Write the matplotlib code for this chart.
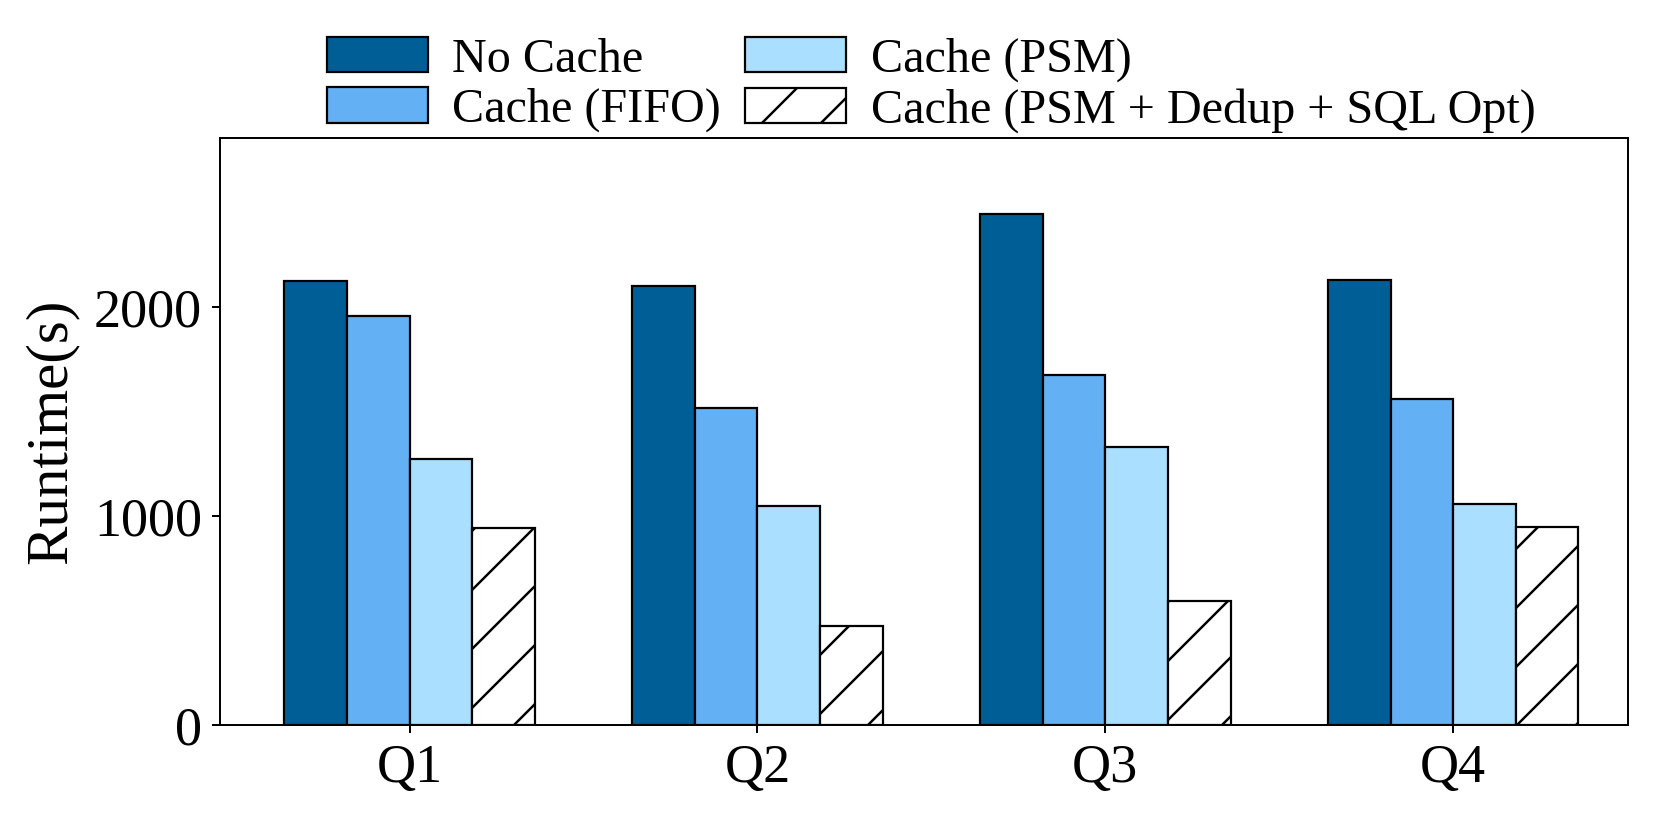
import numpy as np
import matplotlib
matplotlib.use("Agg")
import matplotlib.pyplot as plt

queries = ["Q1", "Q2", "Q3", "Q4"]
labels = ["No Cache", "Cache (FIFO)", "Cache (PSM)", "Cache (PSM + Dedup + SQL Opt)"]
no_cache = [2127, 2101, 2446, 2132]
cache_fifo = [1959, 1519, 1676, 1559]
cache_psm = [1271, 1048, 1332, 1058]
cache_opt = [942, 476, 592, 947]

colors = ["#005e96", "#63b0f4", "#abdfff", "white"]
hatches = [None, None, None, "//"]

plt.rcParams["font.family"] = ["Liberation Serif", "DejaVu Serif"]
plt.rcParams["hatch.linewidth"] = 0.5

dpi = 354
fig = plt.figure(figsize=(1660 / dpi, 816 / dpi), dpi=dpi)
ax = fig.add_axes([0.1325, 0.1115, 0.8485, 0.7195])

x = np.arange(len(queries))
w = 0.18
series = [no_cache, cache_fifo, cache_psm, cache_opt]
for i, vals in enumerate(series):
    ax.bar(x + (i - 1.5) * w, vals, w, color=colors[i], edgecolor="black",
           linewidth=0.45, hatch=hatches[i], label=labels[i])

ax.set_xlim(-0.545, 3.504)
ax.set_ylim(0, 2810)
ax.set_yticks([0, 1000, 2000])
ax.set_xticks(x)
ax.set_xticklabels(queries)
ax.tick_params(axis="both", labelsize=11, length=1.7, width=0.4, pad=2)
ax.set_ylabel("Runtime(s)", fontsize=12, labelpad=3)
for s in ax.spines.values():
    s.set_linewidth(0.4)

ax.legend(loc="lower center", bbox_to_anchor=(0.505, 0.968), ncol=2, frameon=False,
          fontsize=9.8, handlelength=2.1, handleheight=0.75, handletextpad=0.5,
          columnspacing=0.5, labelspacing=0.12, borderaxespad=0.1)

fig.savefig("out.png", dpi=dpi)
